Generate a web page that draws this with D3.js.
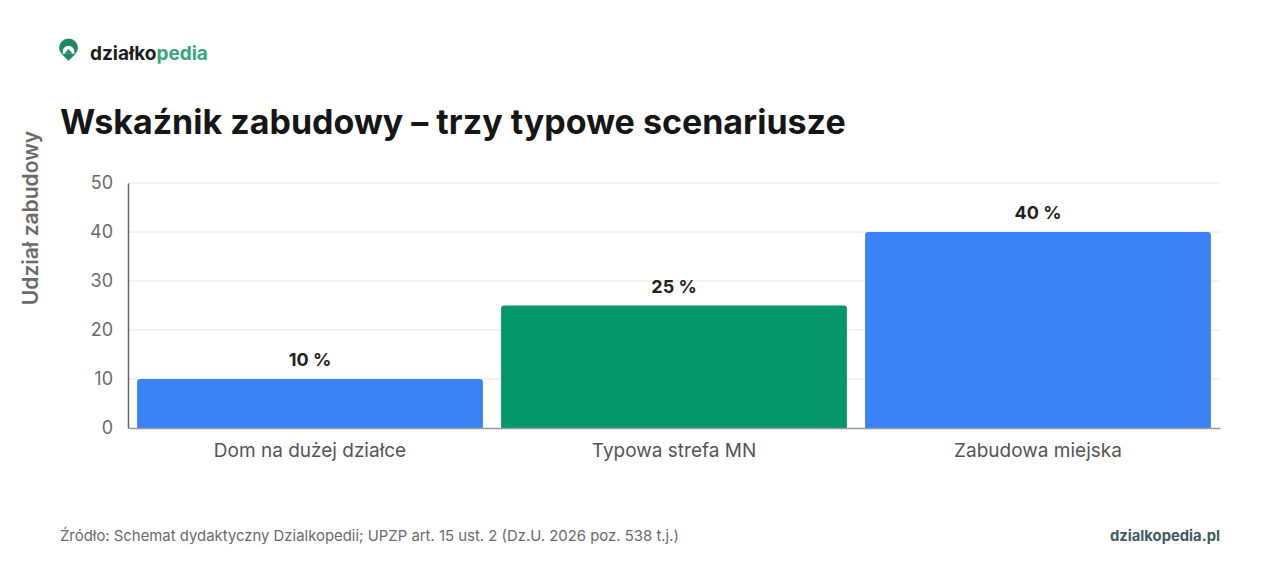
<!DOCTYPE html>
<html>
<head>
<meta charset="utf-8">
<script src="https://cdn.jsdelivr.net/npm/d3@7"></script>
<style>
  html, body { margin: 0; padding: 0; background: #fff; }
  svg { display: block; font-family: Inter, "Noto Sans", sans-serif; }
</style>
</head>
<body>
<div id="chart"></div>
<script>
// ── DATA ──────────────────────────────────────────────────────────────
const categories = ["Dom na dużej działce", "Typowa strefa MN", "Zabudowa miejska"];
const shares     = [10, 25, 40];
const barColors  = ["#3b82f6", "#059669", "#3b82f6"];
const yTicks     = [0, 10, 20, 30, 40, 50];

(function () {
    const width = 1280, height = 565;
    const plot = { left: 128, right: 1220, top: 183, bottom: 428 };

    const svg = d3.select("#chart").append("svg")
        .attr("width", width).attr("height", height)
        .attr("viewBox", `0 0 ${width} ${height}`);

    // ── HEADER ──────────────────────────────────────────────────────────
    const logo = svg.append("g").attr("transform", "translate(68.5,51) scale(1.05)");
    logo.append("path")
        .attr("d", "M0,9.5 C-4,5.5 -9,1.5 -9,-3 A9,9 0 1 1 9,-3 C9,1.5 4,5.5 0,9.5 Z")
        .attr("fill", "#1f8a5e");
    logo.append("path")
        .attr("d", "M-5.5,0.5 A5.5,5.5 0 0 1 5.5,0.5 L5.5,2.5 L-5.5,2.5 Z")
        .attr("fill", "#fff");
    logo.append("path")
        .attr("d", "M-4,2.5 L0,-2 L4,2.5 Z")
        .attr("fill", "#1f8a5e");

    const brand = svg.append("text")
        .attr("x", 90).attr("y", 60)
        .attr("font-size", 19).attr("font-weight", 700);
    brand.append("tspan").attr("fill", "#1d1d1f").text("działko");
    brand.append("tspan").attr("fill", "#3aa57a").text("pedia");

    svg.append("text")
        .attr("x", 60).attr("y", 134)
        .attr("font-size", 34).attr("font-weight", 700)
        .attr("fill", "#161616")
        .text("Wskaźnik zabudowy – trzy typowe scenariusze");

    // ── SCALES ──────────────────────────────────────────────────────────
    const x = d3.scaleBand()
        .domain(categories)
        .range([plot.left, plot.right])
        .paddingInner(0.05)
        .paddingOuter(0.025);

    const y = d3.scaleLinear()
        .domain([0, 50])
        .range([plot.bottom, plot.top]);

    // gridlines
    svg.append("g")
        .selectAll("line")
        .data(yTicks.filter(d => d > 0))
        .enter().append("line")
        .attr("x1", plot.left).attr("x2", plot.right)
        .attr("y1", d => y(d)).attr("y2", d => y(d))
        .attr("stroke", "#e6e6e6").attr("stroke-width", 1);

    // ── BARS ────────────────────────────────────────────────────────────
    const data = categories.map((c, i) => ({ cat: c, value: shares[i], color: barColors[i] }));

    svg.append("g")
        .selectAll("path")
        .data(data)
        .enter().append("path")
        .attr("fill", d => d.color)
        .attr("d", d => {
            const x0 = x(d.cat), x1 = x0 + x.bandwidth();
            const y0 = y(d.value), y1 = y(0), r = 3;
            return `M${x0},${y1} L${x0},${y0 + r} Q${x0},${y0} ${x0 + r},${y0}
                    L${x1 - r},${y0} Q${x1},${y0} ${x1},${y0 + r} L${x1},${y1} Z`;
        });

    svg.append("g")
        .selectAll("text")
        .data(data)
        .enter().append("text")
        .attr("x", d => x(d.cat) + x.bandwidth() / 2)
        .attr("y", d => y(d.value) - 13)
        .attr("text-anchor", "middle")
        .attr("font-size", 18).attr("font-weight", 700)
        .attr("fill", "#222")
        .text(d => `${d.value} %`);

    // ── AXES ────────────────────────────────────────────────────────────
    const yAxis = svg.append("g")
        .attr("transform", `translate(${plot.left},0)`)
        .call(d3.axisLeft(y).tickValues(yTicks).tickSize(0).tickPadding(15));
    yAxis.select(".domain").attr("stroke", "#666").attr("stroke-width", 1.5);
    yAxis.selectAll("text")
        .attr("font-family", "Inter, sans-serif")
        .attr("font-size", 18).attr("fill", "#6b6b6b");

    const xAxis = svg.append("g")
        .attr("transform", `translate(0,${plot.bottom})`)
        .call(d3.axisBottom(x).tickSize(0).tickPadding(16));
    xAxis.select(".domain").attr("stroke", "#9a9a9a").attr("stroke-width", 1.5);
    xAxis.selectAll("text")
        .attr("font-family", "Inter, sans-serif")
        .attr("font-size", 19).attr("fill", "#555");

    svg.append("text")
        .attr("transform", "translate(38,218) rotate(-90)")
        .attr("text-anchor", "middle")
        .attr("font-size", 21).attr("font-weight", 600)
        .attr("fill", "#6b6b6b")
        .text("Udział zabudowy");

    // ── FOOTER ──────────────────────────────────────────────────────────
    svg.append("text")
        .attr("x", 60).attr("y", 541)
        .attr("font-size", 14.9).attr("fill", "#6b6b6b")
        .text("Źródło: Schemat dydaktyczny Dzialkopedii; UPZP art. 15 ust. 2 (Dz.U. 2026 poz. 538 t.j.)");

    svg.append("text")
        .attr("x", 1220).attr("y", 541)
        .attr("text-anchor", "end")
        .attr("font-size", 14.8).attr("font-weight", 700)
        .attr("fill", "#3e5c60")
        .text("dzialkopedia.pl");
})();
</script>
</body>
</html>
